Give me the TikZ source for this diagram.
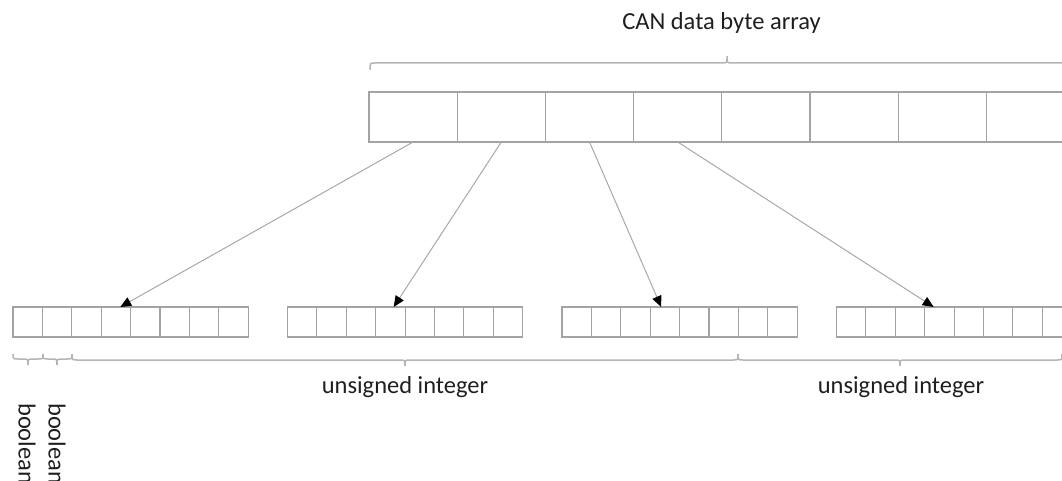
\documentclass[tikz,border=0pt]{standalone}
\usepackage{fontspec}
\setmainfont{Carlito}
\usetikzlibrary{arrows.meta,calc}

\definecolor{boxline}{HTML}{A3A3A3}
\definecolor{wireline}{HTML}{A8A8A8}
\definecolor{braceline}{HTML}{B5B5B5}
\definecolor{labeltext}{HTML}{1F1F1F}

% horizontal curly brace: x-start, x-end, x-tip, y of ends, y of bar, y of tip
\newcommand\curlybrace[6]{%
  \draw[bracestyle] (#1,#4) .. controls (#1,#5) .. ({#1+5},#5)
    -- ({#3-5},#5) .. controls (#3,#5) .. (#3,#6)
    .. controls (#3,#5) .. ({#3+5},#5)
    -- ({#2-5},#5) .. controls (#2,#5) .. (#2,#4);}

\begin{document}
\begin{tikzpicture}[x=1pt,y=-1pt,
  bytecell/.style={draw=boxline, line width=1.2pt, minimum width=88.2pt,
    minimum height=50pt, inner sep=0pt, outer sep=0pt},
  bitcell/.style={draw=boxline, line width=1.1pt, minimum width=29.4pt,
    minimum height=30pt, inner sep=0pt, outer sep=0pt},
  wire/.style={draw=wireline, line width=1pt,
    -{Triangle[length=11pt,width=9.5pt,color=black]}},
  bracestyle/.style={draw=braceline, line width=1.5pt},
  lbl/.style={text=labeltext, inner sep=0pt,
    font=\fontsize{24.5pt}{29pt}\selectfont}]

\useasboundingbox (0,0) rectangle (1062,481);
\clip (0,0) rectangle (1062,481);

% CAN data bytes
\foreach \i in {1,...,8}
  \node[bytecell] (T\i) at ({369+88.2*(\i-0.5)},117) {};

% bit fields of the first four bytes
\foreach \g/\x in {1/13,2/287.5,3/562,4/836.5}
  \foreach \i in {1,...,8}
    \node[bitcell] (B\g-\i) at ({\x+29.4*(\i-0.5)},322) {};

% mapping of each byte onto its bit field
\coordinate (tip1) at ($(B1-4.north west)+(19,0)$);
\coordinate (tip2) at ($(B2-4.north west)+(18,0)$);
\coordinate (tip3) at ($(B3-4.north west)+(11,0)$);
\coordinate (tip4) at ($(B4-4.north west)+(9,0)$);
\foreach \i in {1,...,4}
  \draw[wire] (T\i.south) -- (tip\i);

% braces
\curlybrace{370}{1084}{727}{70}{63}{56}
\curlybrace{13}{43}{28}{354}{359}{365}
\curlybrace{43}{72}{57}{354}{359}{365}
\curlybrace{72}{738}{405}{354}{360}{366}
\curlybrace{738}{1062}{900}{354}{360}{366}

% labels
\node[lbl, anchor=base] (canlbl) at (721.5,30) {CAN data byte array};
\node[lbl, anchor=base] (uint1) at (405,393) {unsigned integer};
\node[lbl, anchor=base] (uint2) at (901,393) {unsigned integer};
\node[lbl, rotate=-90, anchor=west] (bool1) at (27,403) {boolean};
\node[lbl, rotate=-90, anchor=west] (bool2) at (57,403) {boolean};
\end{tikzpicture}
\end{document}
